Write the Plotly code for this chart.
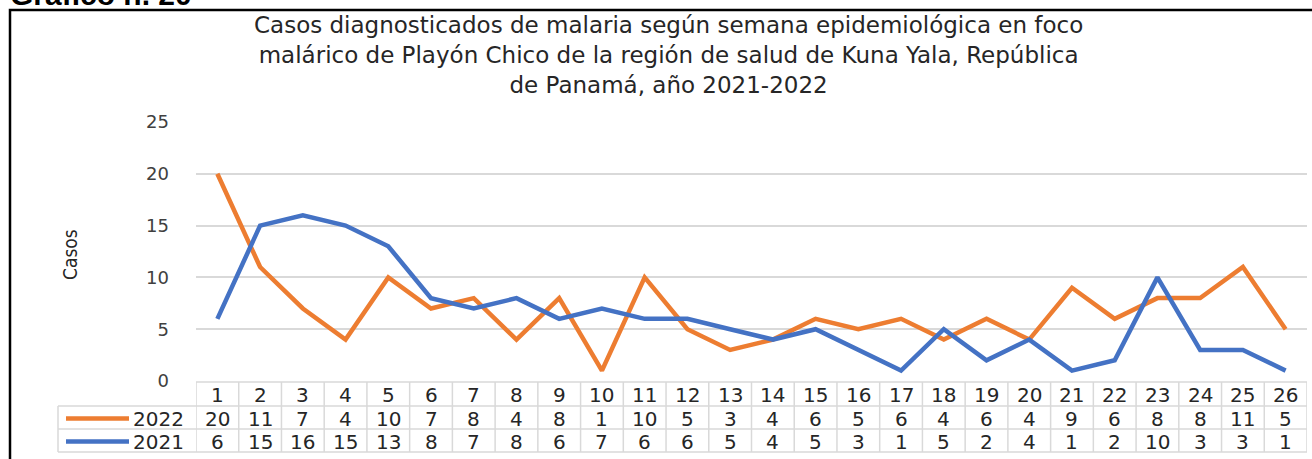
import plotly.graph_objects as go

weeks = list(range(1, 27))
cases_2022 = [20, 11, 7, 4, 10, 7, 8, 4, 8, 1, 10, 5, 3, 4, 6, 5, 6, 4, 6, 4, 9, 6, 8, 8, 11, 5]
cases_2021 = [6, 15, 16, 15, 13, 8, 7, 8, 6, 7, 6, 6, 5, 4, 5, 3, 1, 5, 2, 4, 1, 2, 10, 3, 3, 1]
series_names = ["2022", "2021"]
series_colors = ["#ED7D31", "#4472C4"]
title_lines = [
    "Casos diagnosticados de malaria según semana epidemiológica en foco",
    "malárico de Playón Chico de la región de salud de Kuna Yala, República",
    "de Panamá, año 2021-2022",
]

W, H = 1312, 459
L, R, T, B = 196, 5, 122, 78
PW = W - L - R
PH = H - T - B


def px(x):
    return (x - L) / PW


def py(y):
    return (H - B - y) / PH


fig = go.Figure()
for name, vals, col in zip(series_names, [cases_2022, cases_2021], series_colors):
    fig.add_trace(go.Scatter(x=weeks, y=vals, mode="lines", name=name,
                             line=dict(color=col, width=4.5), showlegend=False))

shapes = []
annotations = []
grid = "#D9D9D9"

# table geometry (pixels)
row_edges = [382, 406, 429, 452]
row_centers = [(row_edges[i] + row_edges[i + 1]) / 2 + 1 for i in range(3)]
legend_left = 58

shapes.append(dict(type="line", xref="paper", yref="paper", x0=0, x1=1,
                   y0=py(row_edges[0]), y1=py(row_edges[0]), line=dict(color=grid, width=1.5)))
for ye in row_edges[1:]:
    shapes.append(dict(type="line", xref="paper", yref="paper", x0=px(legend_left), x1=1,
                       y0=py(ye), y1=py(ye), line=dict(color=grid, width=1.5)))
for k in range(len(weeks) + 1):
    xv = weeks[0] - 0.5 + k
    shapes.append(dict(type="line", xref="x", yref="paper", x0=xv, x1=xv,
                       y0=py(row_edges[0]), y1=py(row_edges[3]), line=dict(color=grid, width=1.5)))
shapes.append(dict(type="line", xref="paper", yref="paper", x0=px(legend_left), x1=px(legend_left),
                   y0=py(row_edges[1]), y1=py(row_edges[3]), line=dict(color=grid, width=1.5)))

tfont = dict(family="DejaVu Sans", size=20, color="#262626")
for w in weeks:
    annotations.append(dict(x=w, y=py(row_centers[0]), xref="x", yref="paper", text=str(w),
                            showarrow=False, font=tfont, xanchor="center", yanchor="middle"))
for r, (name, vals, col) in enumerate(zip(series_names, [cases_2022, cases_2021], series_colors)):
    yc = py(row_centers[r + 1])
    for w, v in zip(weeks, vals):
        annotations.append(dict(x=w, y=yc, xref="x", yref="paper", text=str(v),
                                showarrow=False, font=tfont, xanchor="center", yanchor="middle"))
    shapes.append(dict(type="line", xref="paper", yref="paper", x0=px(66), x1=px(129),
                       y0=yc, y1=yc, line=dict(color=col, width=4.5)))
    annotations.append(dict(x=px(131), y=yc, xref="paper", yref="paper", text=name,
                            showarrow=False, font=tfont, xanchor="left", yanchor="middle"))

# outer border
shapes.append(dict(type="rect", xref="paper", yref="paper", x0=px(10), x1=px(1330),
                   y0=py(480), y1=py(10), line=dict(color="black", width=2.5)))

# title (three lines)
annotations.append(dict(x=px(668), y=py(55), xref="paper", yref="paper", text="<br>".join(title_lines),
                        showarrow=False, xanchor="center", yanchor="middle", align="center",
                        font=dict(family="DejaVu Sans", size=23, color="#262626")))

# y-axis title
annotations.append(dict(x=px(70), y=py(255), xref="paper", yref="paper", text="Casos",
                        showarrow=False, textangle=-90, xanchor="center", yanchor="middle",
                        font=dict(family="Liberation Sans Narrow, DejaVu Sans Condensed", size=19,
                                  color="#262626")))

# cropped heading at the very top
annotations.append(dict(x=px(8), y=py(13), xref="paper", yref="paper", text="<b>Gráfico n. 20</b>",
                        showarrow=False, xanchor="left", yanchor="bottom",
                        font=dict(family="Liberation Sans", size=30, color="black")))

fig.update_layout(
    width=W, height=H,
    margin=dict(l=L, r=R, t=T, b=B),
    paper_bgcolor="white", plot_bgcolor="white",
    shapes=shapes, annotations=annotations,
    xaxis=dict(range=[0.5, 26.5], showticklabels=False, showgrid=False, zeroline=False, ticks=""),
    yaxis=dict(range=[0, 25], dtick=5, showgrid=True, gridcolor=grid, gridwidth=1.5,
               zeroline=False, ticks="", ticklabelstandoff=26,
               tickfont=dict(family="DejaVu Sans", size=18, color="#404040")),
)

fig.write_html("out.html", config={"displayModeBar": False},
               post_script="document.body.style.margin='0px';")
